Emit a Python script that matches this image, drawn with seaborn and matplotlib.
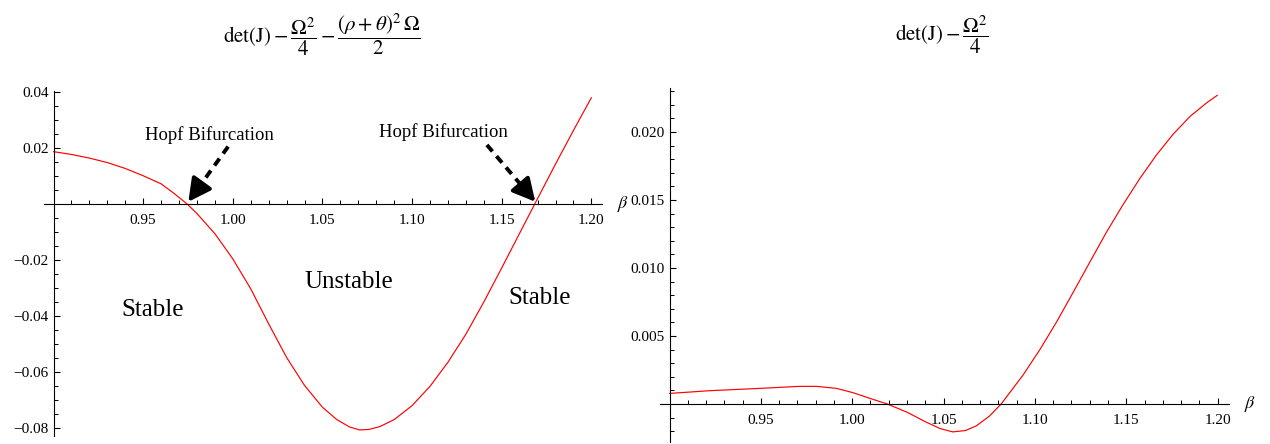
import numpy as np
import pandas as pd
import matplotlib
matplotlib.use("Agg")
import matplotlib.pyplot as plt
from matplotlib.ticker import FixedLocator, MultipleLocator
import seaborn as sns

# ---------------- data ----------------
beta_left = [0.900, 0.910, 0.920, 0.930, 0.940, 0.950, 0.960, 0.967, 0.9745,
             0.980, 0.990, 1.000, 1.010, 1.020, 1.030, 1.040, 1.050, 1.058, 1.065,
             1.0708, 1.076, 1.082, 1.090, 1.100, 1.110, 1.120, 1.130, 1.140, 1.150,
             1.160, 1.1684, 1.180, 1.190, 1.200]
det_left = [0.0187, 0.0177, 0.0164, 0.0148, 0.0127, 0.0101, 0.0072, 0.0039, 0.0000,
            -0.0034, -0.0106, -0.0196, -0.0303, -0.0428, -0.0548, -0.0648, -0.0726, -0.0770, -0.0796,
            -0.0807, -0.0805, -0.0795, -0.0770, -0.0720, -0.0651, -0.0565, -0.0465, -0.0350, -0.0228,
            -0.0104, 0.0000, 0.0143, 0.0263, 0.0380]

beta_right = [0.9000, 0.9221, 0.9495, 0.9713, 0.9804, 0.9914, 1.0005, 1.0096,
              1.0192, 1.0300, 1.0400, 1.0480, 1.0550, 1.0620, 1.0680, 1.0750,
              1.0815, 1.0936, 1.1027, 1.1119, 1.1210, 1.1301, 1.1392, 1.1484,
              1.1575, 1.1666, 1.1757, 1.1849, 1.1940, 1.1998]
det_right = [0.00078, 0.00098, 0.00115, 0.00130, 0.00130, 0.00115, 0.00083, 0.00042,
             0.00000, -0.00060, -0.00130, -0.00180, -0.00205, -0.00195, -0.00160, -0.00090,
             0.00000, 0.00215, 0.00400, 0.00605, 0.00823, 0.01045, 0.01265, 0.01470,
             0.01660, 0.01833, 0.01985, 0.02115, 0.02215, 0.02270]

x_ticks = [0.95, 1.00, 1.05, 1.10, 1.15, 1.20]
x_ticklabels = ["0.95", "1.00", "1.05", "1.10", "1.15", "1.20"]
left_yticks = [-0.08, -0.06, -0.04, -0.02, 0.02, 0.04]
left_yticklabels = ["\u22120.08", "\u22120.06", "\u22120.04", "\u22120.02", "0.02", "0.04"]
right_yticks = [0.005, 0.010, 0.015, 0.020]
right_yticklabels = ["0.005", "0.010", "0.015", "0.020"]

left_title = r"$\mathrm{det(J)}-\dfrac{\Omega^2}{4}-\dfrac{(\rho+\theta)^2\,\Omega}{2}$"
right_title = r"$\mathrm{det(J)}-\dfrac{\Omega^2}{4}$"

df_left = pd.DataFrame({"beta": beta_left, "val": det_left})
df_right = pd.DataFrame({"beta": beta_right, "val": det_right})

# ---------------- style ----------------
sns.set_theme(style="white")
plt.rcParams["font.family"] = ["Liberation Serif", "DejaVu Serif"]
plt.rcParams["mathtext.fontset"] = "stix"
plt.rcParams["text.color"] = "black"
plt.rcParams["xtick.color"] = "black"
plt.rcParams["ytick.color"] = "black"

W, H = 1270, 444
fig = plt.figure(figsize=(W / 100, H / 100), dpi=100)
fig.patch.set_facecolor("white")

axL = fig.add_axes([44 / W, 8 / H, 558 / W, 345.4 / H])
axR = fig.add_axes([660 / W, 1.9 / H, 569 / W, 353.6 / H])

sns.lineplot(data=df_left, x="beta", y="val", ax=axL, color="red", lw=0.85,
             estimator=None, sort=False)
sns.lineplot(data=df_right, x="beta", y="val", ax=axR, color="red", lw=0.85,
             estimator=None, sort=False)

axL.set_xlim(0.8947, 1.2059)
axL.set_ylim(-0.08286, 0.0405)
axR.set_xlim(0.8948, 1.2062)
axR.set_ylim(-0.0028, 0.0232)


def style_axes(ax, yticks, yticklabels, yminor):
    ax.set_facecolor("white")
    ax.set_xlabel("")
    ax.set_ylabel("")
    for s in ("top", "right"):
        ax.spines[s].set_visible(False)
    ax.spines["left"].set_position(("data", 0.9))
    ax.spines["bottom"].set_position(("data", 0.0))
    for s in ("left", "bottom"):
        ax.spines[s].set_color("black")
        ax.spines[s].set_linewidth(0.8)
    ax.xaxis.set_major_locator(FixedLocator(x_ticks))
    ax.set_xticklabels(x_ticklabels)
    ax.xaxis.set_minor_locator(MultipleLocator(0.01))
    ax.yaxis.set_major_locator(FixedLocator(yticks))
    ax.set_yticklabels(yticklabels)
    ax.yaxis.set_minor_locator(MultipleLocator(yminor))
    ax.tick_params(which="major", direction="in", length=4.5, width=0.8,
                   labelsize=11, colors="black")
    ax.tick_params(which="minor", direction="in", length=3.0, width=0.7,
                   colors="black")
    ax.tick_params(axis="x", which="major", pad=7)
    ax.tick_params(axis="y", which="major", pad=3.5)
    ax.tick_params(bottom=True, left=True, which="both")
    ax.grid(False)
    ax.annotate(r"$\beta$", xy=(1.0, 0.0), xycoords=("axes fraction", "data"),
                xytext=(10.5, 0), textcoords="offset points",
                ha="left", va="center", fontsize=13, annotation_clip=False)


style_axes(axL, left_yticks, left_yticklabels, 0.005)
style_axes(axR, right_yticks, right_yticklabels, 0.001)

# titles
fig.text(322 / W, 1 - 35 / H, left_title, ha="center", va="center", fontsize=15)
fig.text(942 / W, 1 - 35 / H, right_title, ha="center", va="center", fontsize=15)


# dashed arrows with a solid head
def dashed_arrow(ax, start, tip):
    sx, sy = start
    tx, ty = tip
    mid = (sx + 0.70 * (tx - sx), sy + 0.70 * (ty - sy))
    ax.annotate("", xy=mid, xytext=start,
                arrowprops=dict(arrowstyle="-", linestyle=(0, (2.2, 1.6)),
                                lw=2.8, color="black", shrinkA=0, shrinkB=0,
                                capstyle="butt"))
    ax.annotate("", xy=tip, xytext=mid,
                arrowprops=dict(arrowstyle="-|>,head_length=1.05,head_width=0.55",
                                lw=2.8, color="black", mutation_scale=13,
                                shrinkA=0, shrinkB=0))


dashed_arrow(axL, (0.9974, 0.0205), (0.9752, 0.0008))
dashed_arrow(axL, (1.1417, 0.0211), (1.1687, 0.0008))

axL.text(0.9867, 0.0246, "Hopf Bifurcation", ha="center", va="center", fontsize=13.5)
axL.text(1.1175, 0.0258, "Hopf Bifurcation", ha="center", va="center", fontsize=13.5)
axL.text(0.9551, -0.0379, "Stable", ha="center", va="center", fontsize=18)
axL.text(1.0649, -0.0277, "Unstable", ha="center", va="center", fontsize=18)
axL.text(1.1712, -0.0337, "Stable", ha="center", va="center", fontsize=18)

fig.savefig("out.png", dpi=100, facecolor="white")
